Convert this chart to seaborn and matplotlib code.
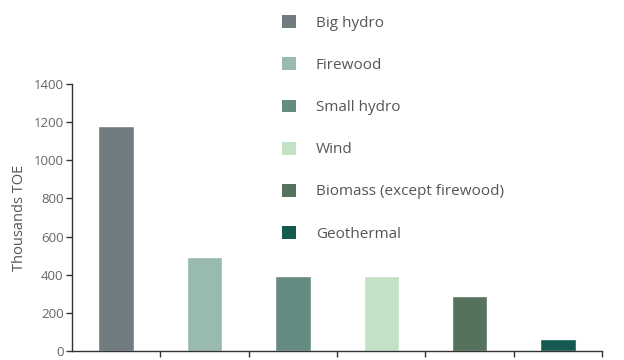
import matplotlib
matplotlib.use("Agg")
import matplotlib.pyplot as plt
import seaborn as sns
import pandas as pd
from matplotlib.patches import Patch

categories = ["Big hydro", "Firewood", "Small hydro", "Wind",
              "Biomass (except firewood)", "Geothermal"]
values = [1180, 493, 393, 393, 288, 63]
colors = ["#717c81", "#98bab0", "#658c82", "#c2e1c5", "#55735c", "#155a50"]
y_ticks = [0, 200, 400, 600, 800, 1000, 1200, 1400]

sns.set_style("white")
plt.rcParams["font.family"] = ["Open Sans", "DejaVu Sans"]

df = pd.DataFrame({"cat": categories, "val": values})

fig = plt.figure(figsize=(6.24, 3.6), dpi=100)
ax = fig.add_axes([72/624, 9/360, 530/624, 267/360])
sns.barplot(data=df, x="cat", y="val", hue="cat", palette=colors,
            width=0.4, legend=False, ax=ax, saturation=1)

ax.set_xlim(-0.5, 5.5)
ax.set_ylim(0, 1400)
ax.set_yticks(y_ticks)
ax.set_yticklabels([str(t) for t in y_ticks], color="#666666", fontsize=9.5)
ax.set_xticks([0.5, 1.5, 2.5, 3.5, 4.5, 5.5])
ax.set_xticklabels([])
ax.tick_params(axis="both", direction="out", length=4, width=1, color="#333333",
               left=True, bottom=True, pad=2)
ax.set_xlabel("")
ax.set_ylabel("Thousands TOE", color="#555555", fontsize=10.5, labelpad=5)
for s in ["top", "right"]:
    ax.spines[s].set_visible(False)
for s in ["left", "bottom"]:
    ax.spines[s].set_color("#333333")
    ax.spines[s].set_linewidth(1)

handles = [Patch(facecolor=c, edgecolor="none") for c in colors]
fig.legend(handles, categories, loc="upper left",
           bbox_to_anchor=(268/624, 1 - 1.5/360), frameon=False,
           handlelength=0.92, handleheight=0.92, handletextpad=1.3,
           labelspacing=1.73, fontsize=11, labelcolor="#555555")

fig.savefig("out.png", dpi=100)
